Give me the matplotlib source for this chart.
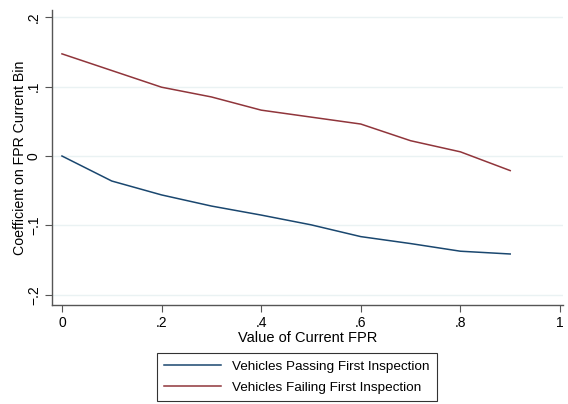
import matplotlib
matplotlib.use("Agg")
import matplotlib.pyplot as plt

plt.rcParams['font.family'] = ['Liberation Sans', 'DejaVu Sans']

# Data
fpr = [0.0, 0.1, 0.2, 0.3, 0.4, 0.5, 0.6, 0.7, 0.8, 0.9]
passing = [0.0, -0.036, -0.056, -0.072, -0.085, -0.099, -0.116, -0.126, -0.137, -0.141]
failing = [0.147, 0.123, 0.099, 0.085, 0.066, 0.056, 0.046, 0.022, 0.006, -0.021]

x_ticks = [0, 0.2, 0.4, 0.6, 0.8, 1.0]
x_labels = ["0", ".2", ".4", ".6", ".8", "1"]
y_ticks = [-0.2, -0.1, 0, 0.1, 0.2]
y_labels = ["\u2212.2", "\u2212.1", "0", ".1", ".2"]

navy = "#1a476f"
maroon = "#90353b"

fig = plt.figure(figsize=(5.68, 4.04), dpi=100)
ax = fig.add_axes([52 / 568, 1 - 305 / 404, 511 / 568, 295 / 404])

ax.plot(fpr, passing, color=navy, lw=1.1, label="Vehicles Passing First Inspection")
ax.plot(fpr, failing, color=maroon, lw=1.1, label="Vehicles Failing First Inspection")

ax.set_xlim(-0.02, 1.006)
ax.set_ylim(-0.2144, 0.2101)

ax.set_xticks(x_ticks)
ax.set_xticklabels(x_labels, fontsize=10)
ax.set_yticks(y_ticks)
ax.set_yticklabels(y_labels, fontsize=10, rotation=90, va="center")

# light horizontal grid
for y in y_ticks:
    ax.axhline(y, color="#eaf2f3", lw=1, zorder=0)

ax.spines["top"].set_visible(False)
ax.spines["right"].set_visible(False)
for s in ["left", "bottom"]:
    ax.spines[s].set_color("#555555")
    ax.spines[s].set_linewidth(1)
ax.tick_params(colors="black", length=5, width=0.8, pad=3)
ax.tick_params(axis="both", color="#555555")

ax.set_xlabel("Value of Current FPR", fontsize=10.5, labelpad=1)
ax.set_ylabel("Coefficient on FPR Current Bin", fontsize=10.2, labelpad=0)

leg = fig.legend(loc="upper left", bbox_to_anchor=(157 / 568, 1 - 353 / 404),
                 borderaxespad=0, fontsize=9.7, frameon=True, fancybox=False,
                 edgecolor="black", handlelength=4.2, borderpad=0.55,
                 labelspacing=0.65, handletextpad=0.8)
leg.get_frame().set_linewidth(0.8)

fig.savefig("out.png", dpi=100)
